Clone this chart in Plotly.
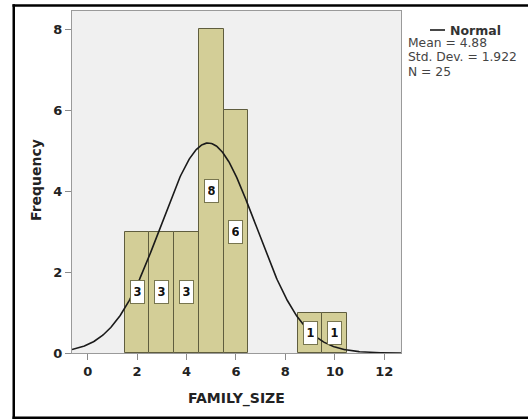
import numpy as np
import plotly.graph_objects as go

# Histogram of family size (bin width 1, centred on whole numbers)
family_size = [2, 3, 4, 5, 6, 9, 10]
frequency = [3, 3, 3, 8, 6, 1, 1]

# Summary statistics shown beside the chart
n_obs = 25
mean_val = 4.88
std_dev = 1.922

x_ticks = [0, 2, 4, 6, 8, 10, 12]
y_ticks = [0, 2, 4, 6, 8]

W, H = 528, 419
ML, MR, MT, MB = 72, 127, 11, 66
PW, PH = W - ML - MR, H - MT - MB

X_RANGE = [-0.635, 12.68]
Y_RANGE = [0, 8.45]


def px(x):
    return (x - ML) / PW


def py(y):
    return (H - MB - y) / PH


FONT = "DejaVu Sans"
BAR_FILL = "#D3CE97"
BAR_EDGE = "#5f5d3e"

fig = go.Figure()

fig.add_trace(go.Bar(
    x=family_size, y=frequency, width=1,
    marker=dict(color=BAR_FILL, line=dict(color=BAR_EDGE, width=1)),
    hoverinfo="x+y", showlegend=False,
))

# Fitted normal curve scaled to counts (N x bin width x density)
xs = np.linspace(X_RANGE[0], X_RANGE[1], 400)
ys = n_obs * 1.0 / (std_dev * np.sqrt(2 * np.pi)) * np.exp(-0.5 * ((xs - mean_val) / std_dev) ** 2)
fig.add_trace(go.Scatter(
    x=xs, y=ys, mode="lines",
    line=dict(color="#1a1a1a", width=1.6), showlegend=False, hoverinfo="skip",
))

annotations = []
# Count labels at the middle of each bar
for xv, f in zip(family_size, frequency):
    annotations.append(dict(
        x=xv, y=f / 2, xref="x", yref="y", text=f"<b>{f}</b>", showarrow=False,
        width=7, height=16,
        bgcolor="white", bordercolor="#77754f", borderwidth=1, borderpad=3,
        font=dict(family=FONT, size=11.5, color="#111"),
    ))

# Axis titles
annotations.append(dict(
    x=px(36), y=py(180), xref="paper", yref="paper", text="<b>Frequency</b>",
    textangle=-90, showarrow=False, xanchor="center", yanchor="middle",
    font=dict(family=FONT, size=14, color="#222"),
))
annotations.append(dict(
    x=px(236), y=py(398), xref="paper", yref="paper", text="<b>FAMILY_SIZE</b>",
    showarrow=False, xanchor="center", yanchor="middle",
    font=dict(family=FONT, size=14, color="#222"),
))

# Normal-curve key and statistics
annotations.append(dict(
    x=px(448), y=py(30), xref="paper", yref="paper", text="<b>Normal</b>",
    showarrow=False, xanchor="left", yanchor="middle",
    font=dict(family=FONT, size=12.5, color="#333"),
))
stats_lines = [f"Mean = {mean_val}", f"Std. Dev. = {std_dev}", f"N = {n_obs}"]
for i, line in enumerate(stats_lines):
    annotations.append(dict(
        x=px(406), y=py(43 + 14.5 * i), xref="paper", yref="paper", text=line,
        showarrow=False, xanchor="left", yanchor="middle",
        font=dict(family=FONT, size=12.3, color="#444"),
    ))


def bar_rect(x0, x1, y0, y1):
    # solid black strip of the outer frame (filled, no stroke)
    return dict(type="rect", xref="paper", yref="paper",
                x0=px(x0), x1=px(x1), y0=py(y1), y1=py(y0),
                fillcolor="black", line=dict(width=0))


shapes = [
    # key line for the normal curve
    dict(type="line", xref="paper", yref="paper",
         x0=px(430), x1=px(445), y0=py(30), y1=py(30),
         line=dict(color="#1a1a1a", width=1.6)),
    bar_rect(12.5, W, 4.2, 6.7),      # top edge
    bar_rect(12.5, 15.0, 4.2, 419),   # left edge
    bar_rect(12.5, W, 416.5, 419),    # bottom edge
]

axis_common = dict(
    showgrid=False, zeroline=False, showline=True, mirror=True,
    linecolor="#9a9a9a", linewidth=1,
    ticks="outside", ticklen=6, tickwidth=1, tickcolor="#8a8a8a",
    tickfont=dict(family=FONT, size=13, color="#222", weight="bold"),
    fixedrange=True,
)

fig.update_layout(
    width=W, height=H,
    margin=dict(l=ML, r=MR, t=MT, b=MB, pad=0),
    paper_bgcolor="white", plot_bgcolor="#F0F0F0",
    xaxis=dict(range=X_RANGE, tickvals=x_ticks, **axis_common),
    yaxis=dict(range=Y_RANGE, tickvals=y_ticks, **axis_common),
    bargap=0, annotations=annotations, shapes=shapes,
    showlegend=False,
)

fig.write_html("out.html")
